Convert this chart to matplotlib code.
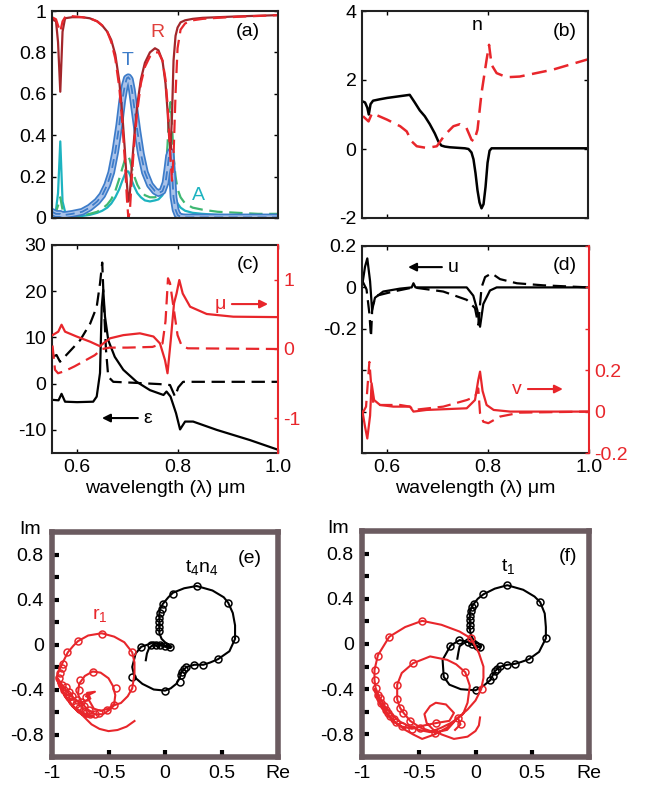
import matplotlib
matplotlib.use("Agg")
import matplotlib.pyplot as plt
from matplotlib.ticker import FixedLocator

plt.rcParams['font.family'] = ['Liberation Sans', 'DejaVu Sans']
plt.rcParams['axes.unicode_minus'] = False
plt.rcParams['mathtext.default'] = 'regular'

# ---------------- data ----------------
# (a) R, T, A spectra
lam_a = [0.550, 0.558, 0.562, 0.5665, 0.571, 0.576, 0.590, 0.610, 0.625, 0.640, 0.650,
         0.660, 0.668, 0.676, 0.684, 0.690, 0.695, 0.699, 0.702, 0.705, 0.709, 0.714,
         0.720, 0.727, 0.735, 0.745, 0.755, 0.762, 0.770, 0.776, 0.780, 0.783, 0.786,
         0.789, 0.792, 0.796, 0.800, 0.806, 0.815, 0.830, 0.850, 0.880, 0.920, 0.960, 1.000]
R_solid = [0.96, 0.95, 0.85, 0.61, 0.90, 0.965, 0.97, 0.97, 0.965, 0.95, 0.93,
           0.90, 0.86, 0.79, 0.66, 0.50, 0.33, 0.17, 0.08, 0.12, 0.25, 0.40,
           0.55, 0.67, 0.75, 0.80, 0.82, 0.81, 0.76, 0.65, 0.52, 0.40, 0.33,
           0.50, 0.76, 0.88, 0.92, 0.945, 0.955, 0.962, 0.967, 0.970, 0.974, 0.977, 0.98]
R_dash = [0.97, 0.96, 0.93, 0.90, 0.95, 0.97, 0.975, 0.97, 0.965, 0.95, 0.93,
          0.90, 0.85, 0.77, 0.63, 0.46, 0.28, 0.10, 0.0, 0.03, 0.20, 0.37,
          0.52, 0.65, 0.73, 0.78, 0.80, 0.80, 0.76, 0.67, 0.55, 0.42, 0.28,
          0.18, 0.30, 0.60, 0.82, 0.91, 0.94, 0.955, 0.962, 0.967, 0.972, 0.976, 0.98]
T_val = [0.03, 0.02, 0.02, 0.02, 0.015, 0.015, 0.02, 0.03, 0.05, 0.08, 0.11,
         0.16, 0.22, 0.32, 0.45, 0.57, 0.64, 0.675, 0.68, 0.67, 0.62, 0.53,
         0.42, 0.31, 0.22, 0.16, 0.13, 0.12, 0.13, 0.17, 0.24, 0.30, 0.32,
         0.22, 0.10, 0.04, 0.015, 0.005, 0.003, 0.003, 0.003, 0.003, 0.003, 0.003, 0.003]
A_solid = [0.02, 0.04, 0.12, 0.37, 0.08, 0.03, 0.01, 0.01, 0.015, 0.025, 0.035,
           0.05, 0.07, 0.10, 0.14, 0.18, 0.21, 0.225, 0.225, 0.21, 0.18, 0.15,
           0.12, 0.10, 0.085, 0.08, 0.085, 0.09, 0.11, 0.15, 0.21, 0.27, 0.30,
           0.24, 0.15, 0.09, 0.07, 0.05, 0.035, 0.025, 0.02, 0.015, 0.012, 0.01, 0.01]
A_dash = [0.01, 0.03, 0.06, 0.10, 0.04, 0.02, 0.01, 0.012, 0.02, 0.03, 0.045,
          0.065, 0.09, 0.13, 0.19, 0.24, 0.28, 0.30, 0.30, 0.28, 0.24, 0.20,
          0.16, 0.13, 0.11, 0.10, 0.10, 0.11, 0.14, 0.22, 0.35, 0.50, 0.56,
          0.45, 0.30, 0.20, 0.14, 0.10, 0.07, 0.05, 0.04, 0.03, 0.025, 0.02, 0.02]

# (b) effective index n
lam_n_re = [0.551, 0.556, 0.5605, 0.5635, 0.567, 0.572, 0.585, 0.600, 0.620, 0.635, 0.645,
            0.655, 0.665, 0.675, 0.685, 0.695, 0.702, 0.708, 0.715, 0.725, 0.735, 0.745,
            0.755, 0.762, 0.768, 0.772, 0.776, 0.780, 0.784, 0.788, 0.792, 0.796, 0.800,
            0.804, 0.808, 0.815, 0.830, 0.860, 0.900, 0.950, 1.000]
n_re = [1.38, 1.35, 1.2, 1.0, 1.3, 1.4, 1.44, 1.48, 1.52, 1.55, 1.57,
        1.35, 1.12, 0.95, 0.72, 0.45, 0.22, 0.10, 0.07, 0.05, 0.04, 0.03,
        0.02, 0.0, -0.1, -0.3, -0.7, -1.2, -1.55, -1.72, -1.6, -1.1, -0.4,
        -0.05, 0.02, 0.02, 0.02, 0.02, 0.02, 0.02, 0.02]
lam_n_im = [0.552, 0.563, 0.570, 0.600, 0.626, 0.639, 0.649, 0.659, 0.679, 0.699, 0.715,
            0.732, 0.745, 0.758, 0.768, 0.773, 0.780, 0.788, 0.798, 0.803, 0.808, 0.818,
            0.838, 0.864, 0.930, 1.000]
n_im = [0.95, 0.80, 1.04, 0.85, 0.66, 0.51, 0.22, 0.08, 0.03, 0.08, 0.41,
        0.66, 0.72, 0.61, 0.27, 0.22, 0.56, 1.62, 2.58, 3.02, 2.44, 2.2,
        2.08, 2.1, 2.3, 2.6]

# (c) permittivity (left axis) and permeability (right axis)
lam_eps = [0.551, 0.563, 0.569, 0.576, 0.600, 0.632, 0.639, 0.6456, 0.649, 0.652, 0.6555,
           0.662, 0.675, 0.692, 0.7185, 0.745, 0.772, 0.778, 0.786, 0.797, 0.805, 0.815,
           0.831, 0.878, 0.944, 1.000]
eps_re = [-3.5, -3.6, -2.2, -3.9, -4.0, -3.9, -2.8, 2.3, 16.6, 20.3, 14.5,
          9.4, 5.8, 3.0, 0.4, -1.4, -2.45, -1.7, -2.8, -6.4, -9.9, -8.2,
          -8.2, -10.0, -12.2, -14.3]
lam_eps_im = [0.551, 0.559, 0.566, 0.582, 0.606, 0.626, 0.639, 0.6456, 0.650, 0.6535, 0.6575,
              0.662, 0.672, 0.712, 0.765, 0.785, 0.795, 0.8015, 0.811, 1.000]
eps_im = [5.8, 6.2, 4.75, 6.6, 9.4, 13.0, 16.6, 21.7, 26.2, 16.6, 7.3,
          1.5, 0.4, 0.2, -0.1, -0.3, -2.8, -0.8, 0.4, 0.4]
lam_mu = [0.551, 0.5625, 0.569, 0.576, 0.599, 0.626, 0.6456, 0.652, 0.6655, 0.692, 0.725,
          0.752, 0.765, 0.775, 0.780, 0.7865, 0.793, 0.798, 0.8035, 0.8103, 0.825, 0.858,
          0.911, 1.000]
mu_re = [0.20, 0.25, 0.35, 0.25, 0.18, 0.105, 0.04, 0.08, 0.154, 0.20, 0.226,
         0.18, 0.08, -0.16, -0.35, 0.13, 0.66, 0.80, 0.995, 0.80, 0.61, 0.505,
         0.466, 0.46]
lam_mu_im = [0.551, 0.556, 0.562, 0.575, 0.595, 0.615, 0.635, 0.650, 0.665, 0.700, 0.750,
             0.770, 0.776, 0.781, 0.785, 0.792, 0.800, 0.808, 0.820, 1.000]
mu_im = [0.05, -0.30, -0.35, -0.32, -0.25, -0.17, -0.09, 0.0, 0.02, 0.02, 0.03,
         0.08, 0.40, 1.02, 0.95, 0.60, 0.20, 0.05, 0.01, 0.0]

# (d) u (left axis) and v (right axis)
lam_u = [0.551, 0.556, 0.5605, 0.566, 0.570, 0.5757, 0.592, 0.625, 0.6485, 0.652, 0.656,
         0.7576, 0.7706, 0.7786, 0.784, 0.7905, 0.8037, 0.817, 1.000]
u_solid = [0.02, 0.10, 0.14, 0.03, -0.11, -0.05, -0.02, -0.006, 0.0, 0.02, 0.0,
           0.0, -0.04, -0.11, -0.19, -0.08, -0.015, 0.0, 0.0]
lam_u_d = [0.551, 0.559, 0.5646, 0.5678, 0.5705, 0.579, 0.612, 0.6518, 0.711, 0.7576, 0.774,
           0.7805, 0.787, 0.794, 0.807, 0.8236, 0.857, 0.9094, 1.000]
u_dash = [0.03, -0.01, -0.125, -0.24, -0.09, -0.04, -0.02, 0.0, -0.02, -0.06, -0.10,
          -0.18, 0.0, 0.05, 0.068, 0.04, 0.02, 0.01, 0.0]
lam_v = [0.551, 0.556, 0.5605, 0.566, 0.569, 0.574, 0.5857, 0.612, 0.645, 0.652, 0.678,
         0.7576, 0.774, 0.7805, 0.784, 0.789, 0.797, 0.811, 0.844, 1.000]
v_solid = [0.0, -0.073, -0.13, -0.02, 0.137, 0.056, 0.032, 0.024, 0.024, 0.0, 0.008,
           0.016, 0.056, 0.153, 0.193, 0.10, 0.032, 0.008, 0.0, 0.0]
lam_v_d = [0.551, 0.558, 0.5646, 0.5685, 0.5725, 0.5857, 0.6254, 0.645, 0.652, 0.711, 0.758,
           0.774, 0.7805, 0.784, 0.7905, 0.8004, 0.8236, 0.8633, 1.000]
v_dash = [-0.008, 0.024, 0.24, 0.12, 0.04, 0.032, 0.032, 0.024, 0.008, 0.024, 0.056,
          0.072, 0.112, -0.008, -0.049, -0.056, -0.024, -0.005, 0.0]

# (e) complex-plane trajectories
e_t4n4_re = [-0.17, -0.16, -0.14, -0.10, -0.06, -0.03, 0.00, 0.03, 0.05, 0.06, 0.03, 0.00, -0.03,
             -0.05, -0.05, -0.05, -0.05, -0.05, -0.02, 0.03, 0.07, 0.17, 0.28, 0.42, 0.52, 0.56,
             0.60, 0.62, 0.62, 0.57, 0.47, 0.40, 0.34, 0.26, 0.19, 0.16, 0.14, 0.13, 0.10, 0.05,
             0.00, -0.10, -0.20, -0.27, -0.29, -0.26, -0.21, -0.15, -0.10, -0.05, 0.00, 0.04]
e_t4n4_im = [-0.14, -0.08, -0.03, 0.00, -0.02, 0.01, -0.01, 0.00, -0.03, -0.02, 0.00, 0.02, 0.05,
             0.10, 0.15, 0.20, 0.25, 0.30, 0.36, 0.42, 0.46, 0.50, 0.52, 0.48, 0.42, 0.37,
             0.28, 0.17, 0.05, -0.06, -0.13, -0.16, -0.18, -0.18, -0.20, -0.23, -0.26, -0.30, -0.35, -0.39,
             -0.41, -0.40, -0.35, -0.29, -0.20, -0.08, -0.02, 0.00, 0.02, 0.00, -0.02, -0.03]
e_t4n4_mk_re = [-0.02, -0.03, -0.04, -0.05, -0.05, -0.05, -0.05, 0.07, 0.28, 0.56, 0.62, 0.47, 0.34,
                0.26, 0.19, 0.17, 0.15, 0.14, 0.13, 0.00, -0.29, -0.21, -0.12, -0.08, -0.04, 0.00, 0.04]
e_t4n4_mk_im = [0.36, 0.32, 0.28, 0.24, 0.20, 0.16, 0.12, 0.45, 0.52, 0.37, 0.05, -0.13, -0.18,
                -0.18, -0.20, -0.22, -0.24, -0.27, -0.33, -0.41, -0.29, -0.02, 0.00, 0.00, 0.00, -0.01, -0.02]
e_r1_re = [-0.27, -0.34, -0.42, -0.50, -0.58, -0.65, -0.70, -0.74, -0.82, -0.89, -0.95, -0.90, -0.84,
           -0.77, -0.70, -0.63, -0.70, -0.80, -0.88, -0.94, -0.96, -0.94, -0.91, -0.86, -0.81, -0.77,
           -0.68, -0.56, -0.45, -0.36, -0.29, -0.27, -0.27, -0.29, -0.33, -0.39, -0.45, -0.49, -0.55,
           -0.62, -0.68, -0.74, -0.77, -0.76, -0.71, -0.64, -0.57, -0.50, -0.46, -0.44, -0.45, -0.50,
           -0.57, -0.63, -0.67, -0.69, -0.62, -0.70, -0.66, -0.75, -0.84, -0.91, -0.95]
e_r1_im = [-0.68, -0.73, -0.76, -0.77, -0.75, -0.71, -0.66, -0.62, -0.55, -0.45, -0.32, -0.42, -0.52,
           -0.60, -0.64, -0.64, -0.62, -0.56, -0.47, -0.36, -0.29, -0.24, -0.17, -0.07, -0.01, 0.03,
           0.08, 0.10, 0.07, 0.02, -0.07, -0.16, -0.26, -0.39, -0.46, -0.52, -0.54, -0.58, -0.62,
           -0.62, -0.58, -0.52, -0.44, -0.35, -0.28, -0.24, -0.25, -0.30, -0.37, -0.45, -0.53, -0.57,
           -0.59, -0.57, -0.50, -0.43, -0.42, -0.46, -0.48, -0.52, -0.45, -0.36, -0.30]
e_r1_mk_re = [-0.557, -0.774, -0.863, -0.899, -0.914, -0.929, -0.94, -0.289, -0.289, -0.438, -0.452,
              -0.637, -0.75, -0.765, -0.512, -0.586, -0.676, -0.72, -0.91, -0.89, -0.87, -0.85,
              -0.82, -0.79, -0.76, -0.73, -0.70, -0.66, -0.62, -0.88, -0.85, -0.82, -0.78, -0.74, -0.70]
e_r1_mk_im = [0.094, 0.029, -0.067, -0.17, -0.213, -0.257, -0.30, -0.067, -0.389, -0.389, -0.535,
              -0.243, -0.316, -0.404, -0.579, -0.608, -0.579, -0.55, -0.36, -0.40, -0.44, -0.47,
              -0.50, -0.53, -0.56, -0.59, -0.61, -0.62, -0.62, -0.38, -0.42, -0.46, -0.49, -0.51, -0.47]

# (f) complex-plane trajectories
f_t1_re = [-0.16, -0.15, -0.14, -0.10, -0.07, -0.03, 0.00, 0.04, 0.05, 0.02, -0.02, -0.04, -0.05,
           -0.05, -0.05, -0.05, -0.02, 0.02, 0.07, 0.17, 0.28, 0.42, 0.52, 0.57, 0.61, 0.62, 0.62,
           0.56, 0.47, 0.40, 0.35, 0.28, 0.22, 0.17, 0.13, 0.07, 0.00, -0.13, -0.23, -0.28, -0.29,
           -0.22, -0.14, -0.07, 0.00, 0.04]
f_t1_im = [-0.13, -0.07, -0.02, 0.01, 0.02, 0.00, -0.02, -0.03, -0.02, 0.01, 0.04, 0.08, 0.13,
           0.18, 0.23, 0.29, 0.35, 0.40, 0.44, 0.49, 0.52, 0.48, 0.42, 0.37, 0.27, 0.15, 0.05,
           -0.07, -0.135, -0.16, -0.175, -0.184, -0.20, -0.24, -0.32, -0.37, -0.41, -0.40, -0.36, -0.29, -0.14,
           -0.015, 0.035, 0.02, -0.02, -0.03]
f_t1_mk_re = [-0.012, 0.069, 0.278, 0.572, 0.623, 0.473, 0.347, 0.278, 0.219, 0.19, 0.174, 0.15, 0.129,
              0.0, -0.281, -0.222, -0.141, -0.03, -0.04, -0.05, -0.05, -0.05, -0.05, -0.07, -0.03, 0.01, 0.04]
f_t1_mk_im = [0.357, 0.444, 0.518, 0.371, 0.05, -0.135, -0.175, -0.184, -0.199, -0.22, -0.243, -0.28, -0.316,
              -0.409, -0.287, -0.015, 0.035, 0.33, 0.29, 0.25, 0.21, 0.17, 0.13, 0.02, 0.0, -0.02, -0.03]
f_r1_re = [0.04, 0.03, 0.00, -0.07, -0.19, -0.30, -0.37, -0.43, -0.45, -0.40, -0.35, -0.26, -0.19,
           -0.23, -0.35, -0.45, -0.56, -0.65, -0.73, -0.80, -0.86, -0.89, -0.84, -0.77, -0.70, -0.62,
           -0.55, -0.47, -0.36, -0.25, -0.15, -0.07, 0.00, 0.05, 0.07, 0.07, 0.03, -0.04, -0.14,
           -0.30, -0.47, -0.62, -0.76, -0.86, -0.89, -0.89, -0.88, -0.85, -0.80, -0.74, -0.68, -0.60,
           -0.50, -0.40, -0.30, -0.22, -0.16, -0.11, -0.07, -0.05, -0.09, -0.17, -0.25, -0.40, -0.55,
           -0.65, -0.69, -0.69, -0.665, -0.635, -0.575, -0.485, -0.356, -0.25, -0.156, -0.132, -0.18]
f_r1_im = [-0.65, -0.72, -0.77, -0.82, -0.84, -0.80, -0.76, -0.70, -0.62, -0.55, -0.52, -0.535, -0.61,
           -0.68, -0.70, -0.72, -0.75, -0.73, -0.68, -0.60, -0.50, -0.40, -0.52, -0.62, -0.70, -0.76,
           -0.80, -0.84, -0.80, -0.74, -0.65, -0.58, -0.50, -0.40, -0.30, -0.20, -0.08, 0.05, 0.11,
           0.17, 0.205, 0.15, 0.064, -0.10, -0.23, -0.32, -0.39, -0.46, -0.55, -0.62, -0.68, -0.72,
           -0.76, -0.78, -0.74, -0.70, -0.66, -0.62, -0.52, -0.37, -0.25, -0.18, -0.14, -0.11, -0.17,
           -0.257, -0.36, -0.49, -0.564, -0.608, -0.681, -0.74, -0.784, -0.76, -0.652, -0.711, -0.76]
f_r1_mk_re = [-0.47, -0.76, -0.859, -0.889, -0.889, -0.88, -0.042, 0.054, -0.09, -0.551, -0.689, -0.689,
              -0.665, -0.635, -0.575, -0.485, -0.356, -0.35, -0.156, -0.132, -0.56, -0.86, -0.83, -0.79,
              -0.75, -0.70, -0.65, -0.84, -0.81, -0.77, -0.72]
f_r1_mk_im = [0.205, 0.064, -0.102, -0.228, -0.316, -0.389, 0.05, -0.398, -0.251, -0.17, -0.36, -0.491,
              -0.564, -0.608, -0.681, -0.74, -0.784, -0.702, -0.652, -0.711, -0.754, -0.45, -0.52, -0.58,
              -0.64, -0.69, -0.73, -0.48, -0.55, -0.61, -0.66]

# ---------------- styles ----------------
DARKRED = '#a3262b'
RED = '#e8262b'
BLUE = '#3d7cc9'
LBLUE = '#a9c2e9'
CYAN = '#1db3c0'
GREEN = '#3fb872'
FRAME = '#6b5b60'
FS = 14
DASH = (6, 3)

W, H = 653, 787
fig = plt.figure(figsize=(W / 100, H / 100), dpi=100)


def ax_at(l, t, r, b):
    return fig.add_axes([l / W, 1 - b / H, (r - l) / W, (b - t) / H])


def style_top(ax):
    for s in ax.spines.values():
        s.set_linewidth(1.5)
        s.set_color('#222222')
    ax.tick_params(direction='in', length=3, width=1, labelsize=FS, top=True, right=True, pad=4)
    ax.set_xlim(0.55, 1.0)


# (a)
ax = ax_at(52, 11, 278, 218)
style_top(ax)
ax.plot(lam_a, A_solid, color=CYAN, lw=1.6)
ax.plot(lam_a, A_dash, color=GREEN, lw=1.6, dashes=DASH)
ax.plot(lam_a, T_val, color=BLUE, lw=5.5, solid_capstyle='round')
ax.plot(lam_a, T_val, color=LBLUE, lw=3)
ax.plot(lam_a, T_val, color=BLUE, lw=1.3, dashes=(5, 3))
ax.plot(lam_a, R_solid, color=DARKRED, lw=1.6)
ax.plot(lam_a, R_dash, color=RED, lw=1.6, dashes=DASH)
ax.set_ylim(0, 1)
ax.set_yticks([0, 0.2, 0.4, 0.6, 0.8, 1.0])
ax.set_yticklabels(['0', '0.2', '0.4', '0.6', '0.8', '1'])
ax.set_xticks([0.6, 0.8])
ax.set_xticklabels([])
ax.text(0.867, 0.899, '(a)', transform=ax.transAxes, fontsize=FS, ha='center', va='center')
ax.text(0.465, 0.894, 'R', transform=ax.transAxes, fontsize=FS, ha='center', va='center', color='#e0403c')
ax.text(0.336, 0.763, 'T', transform=ax.transAxes, fontsize=FS, ha='center', va='center', color=BLUE)
ax.text(0.65, 0.111, 'A', transform=ax.transAxes, fontsize=FS, ha='center', va='center', color=CYAN)

# (b)
ax = ax_at(362, 11, 588, 218)
style_top(ax)
ax.plot(lam_n_re, n_re, color='black', lw=1.8)
ax.plot(lam_n_im, n_im, color=RED, lw=1.8, dashes=DASH)
ax.set_ylim(-2, 4)
ax.set_yticks([-2, 0, 2, 4])
ax.set_yticklabels(['-2', '0', '2', '4'])
ax.set_xticks([0.6, 0.8])
ax.set_xticklabels([])
ax.text(0.509, 0.928, 'n', transform=ax.transAxes, fontsize=FS, ha='center', va='center')
ax.text(0.898, 0.899, '(b)', transform=ax.transAxes, fontsize=FS, ha='center', va='center')


def arrow(ax, x0, x1, y, color):
    ax.annotate('', xy=(x1, y), xytext=(x0, y), xycoords='axes fraction',
                arrowprops=dict(arrowstyle='-|>', color=color, lw=1.5, mutation_scale=12,
                                shrinkA=0, shrinkB=0))


# (c)
ax = ax_at(52, 245, 278, 453)
style_top(ax)
ax.tick_params(right=False)
ax.spines['right'].set_visible(False)
ax.plot(lam_eps, eps_re, color='black', lw=1.6)
ax.plot(lam_eps_im, eps_im, color='black', lw=1.6, dashes=DASH)
ax.set_ylim(-15, 30)
ax.set_yticks([-10, 0, 10, 20, 30])
ax.set_xticks([0.6, 0.8, 1.0])
ax.set_xticklabels(['0.6', '0.8', '1.0'])
ax.set_xlabel('wavelength (λ) μm', fontsize=FS, labelpad=3)
ax.text(0.867, 0.904, '(c)', transform=ax.transAxes, fontsize=FS, ha='center', va='center')
ax.text(0.425, 0.168, 'ε', transform=ax.transAxes, fontsize=FS, ha='center', va='center')
arrow(ax, 0.38, 0.221, 0.168, 'black')
ax2 = ax.twinx()
ax2.plot(lam_mu, mu_re, color=RED, lw=1.6)
ax2.plot(lam_mu_im, mu_im, color=RED, lw=1.6, dashes=DASH)
ax2.set_ylim(-1.5, 1.5)
ax2.set_yticks([-1, 0, 1])
ax2.tick_params(direction='in', length=3, width=1, labelsize=FS, colors=RED, pad=4)
for s in ['left', 'top', 'bottom']:
    ax2.spines[s].set_visible(False)
ax2.spines['right'].set_color(RED)
ax2.spines['right'].set_linewidth(1.5)
ax2.text(0.743, 0.716, 'μ', transform=ax2.transAxes, fontsize=FS, ha='center', va='center', color=RED)
arrow(ax2, 0.796, 0.956, 0.716, RED)

# (d)
ax = ax_at(362, 246, 589, 453)
style_top(ax)
ax.tick_params(right=False)
ax.spines['right'].set_visible(False)
ax.plot(lam_u, u_solid, color='black', lw=1.6)
ax.plot(lam_u_d, u_dash, color='black', lw=1.6, dashes=DASH)
ax.set_ylim(-0.8, 0.2)
ax.set_yticks([-0.8, -0.6, -0.4, -0.2, 0, 0.2])
ax.set_yticklabels(['', '', '', '-0.2', '0', '0.2'])
ax.set_xticks([0.6, 0.8, 1.0])
ax.set_xticklabels(['0.6', '0.8', '1.0'])
ax.set_xlabel('wavelength (λ) μm', fontsize=FS, labelpad=3)
ax.text(0.894, 0.908, '(d)', transform=ax.transAxes, fontsize=FS, ha='center', va='center')
ax.text(0.40, 0.894, 'u', transform=ax.transAxes, fontsize=FS, ha='center', va='center')
arrow(ax, 0.352, 0.203, 0.898, 'black')
ax2 = ax.twinx()
ax2.plot(lam_v, v_solid, color=RED, lw=1.6)
ax2.plot(lam_v_d, v_dash, color=RED, lw=1.6, dashes=DASH)
ax2.set_ylim(-0.2, 0.8)
ax2.set_yticks([-0.2, 0, 0.2, 0.4, 0.6, 0.8])
ax2.set_yticklabels(['-0.2', '0', '0.2', '', '', ''])
ax2.tick_params(direction='in', length=3, width=1, labelsize=FS, colors=RED, pad=4)
for s in ['left', 'top', 'bottom']:
    ax2.spines[s].set_visible(False)
ax2.spines['right'].set_color(RED)
ax2.spines['right'].set_linewidth(1.5)
ax2.text(0.683, 0.309, 'v', transform=ax2.transAxes, fontsize=FS, ha='center', va='center', color=RED)
arrow(ax2, 0.731, 0.885, 0.309, RED)


def style_cplx(ax):
    for s in ax.spines.values():
        s.set_linewidth(4)
        s.set_color(FRAME)
    ax.set_xlim(-1, 1)
    ax.set_ylim(-1, 1)
    ax.set_xticks([-1, -0.5, 0, 0.5, 1])
    ax.set_xticklabels(['-1', '-0.5', '0', '0.5', 'Re'])
    ax.set_yticks([-0.8, -0.4, 0, 0.4, 0.8])
    ax.set_yticklabels(['-0.8', '-0.4', '0', '0.4', '0.8'])
    ax.xaxis.remove_overlapping_locs = False
    ax.yaxis.remove_overlapping_locs = False
    ax.xaxis.set_minor_locator(FixedLocator([-0.5, 0, 0.5]))
    ax.yaxis.set_minor_locator(FixedLocator([-0.8, -0.6, -0.4, -0.2, 0, 0.2, 0.4, 0.6, 0.8]))
    ax.tick_params(which='major', length=0, labelsize=FS, pad=6)
    ax.tick_params(which='minor', direction='in', length=5, width=3, color='black')


mk = dict(marker='o', ms=5, mfc='none', mew=1.1, ls='none')

# (e)
ax = ax_at(52, 532, 278, 757)
style_cplx(ax)
ax.plot(e_t4n4_re, e_t4n4_im, color='black', lw=1.5)
ax.plot(e_t4n4_mk_re, e_t4n4_mk_im, color='black', **mk)
ax.plot(e_r1_re, e_r1_im, color=RED, lw=1.5)
ax.plot(e_r1_mk_re, e_r1_mk_im, color=RED, **mk)
ax.text(0.876, 0.884, '(e)', transform=ax.transAxes, fontsize=FS, ha='center', va='center')
ax.text(0.664, 0.844, r'$\mathregular{t_4n_4}$', transform=ax.transAxes, fontsize=FS, ha='center', va='center')
ax.text(0.212, 0.631, r'$\mathregular{r_1}$', transform=ax.transAxes, fontsize=FS, ha='center', va='center', color=RED)
ax.text(-0.097, 1.013, 'Im', transform=ax.transAxes, fontsize=FS, ha='center', va='center')

# (f)
ax = ax_at(362, 531, 589, 757)
style_cplx(ax)
ax.plot(f_t1_re, f_t1_im, color='black', lw=1.5)
ax.plot(f_t1_mk_re, f_t1_mk_im, color='black', **mk)
ax.plot(f_r1_re, f_r1_im, color=RED, lw=1.5)
ax.plot(f_r1_mk_re, f_r1_mk_im, color=RED, **mk)
ax.text(0.907, 0.885, '(f)', transform=ax.transAxes, fontsize=FS, ha='center', va='center')
ax.text(0.643, 0.841, r'$\mathregular{t_1}$', transform=ax.transAxes, fontsize=FS, ha='center', va='center')
ax.text(-0.106, 1.009, 'Im', transform=ax.transAxes, fontsize=FS, ha='center', va='center')

fig.savefig('out.png', dpi=100)
